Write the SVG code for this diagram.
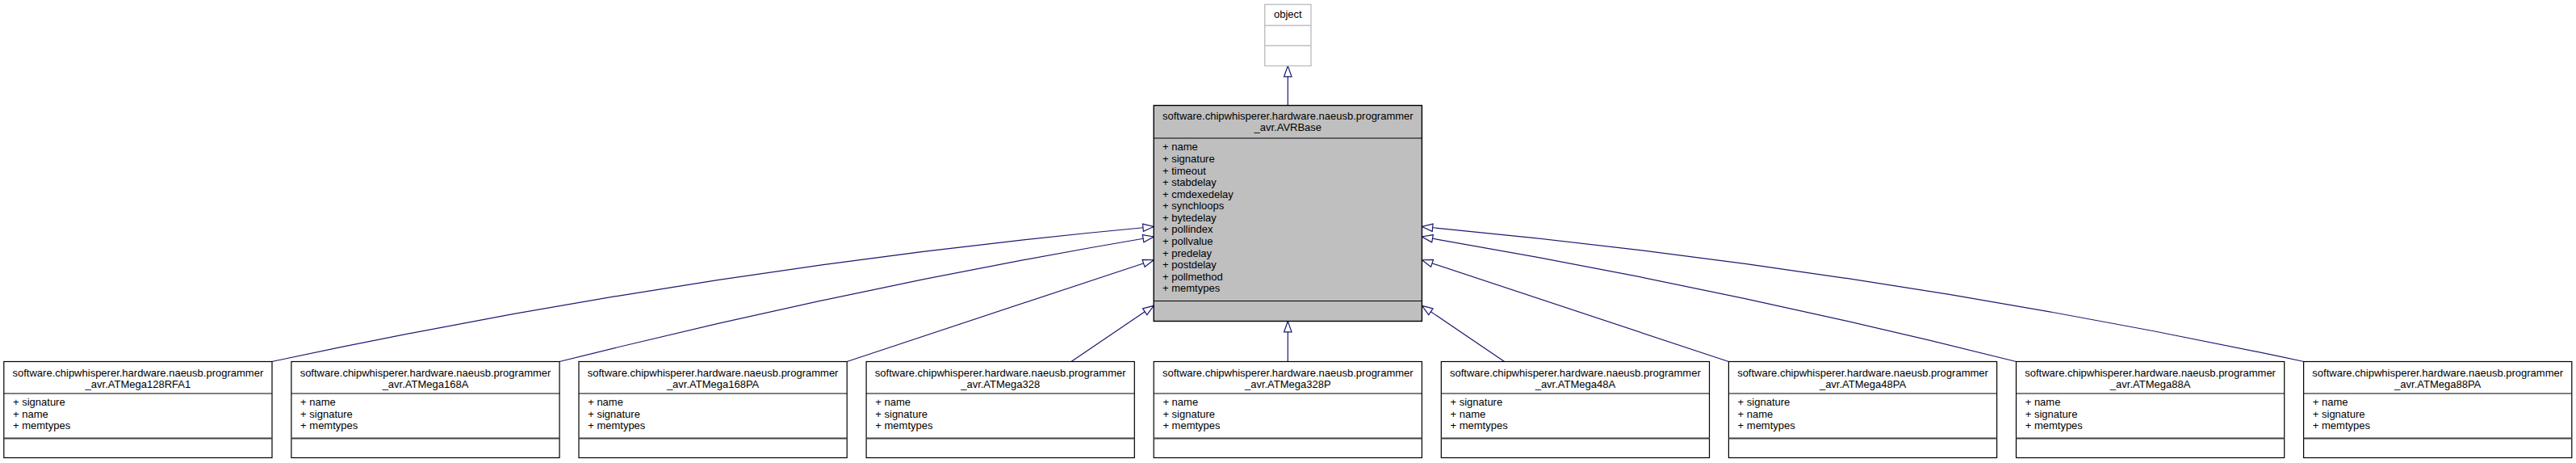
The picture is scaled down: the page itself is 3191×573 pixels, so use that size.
<svg xmlns="http://www.w3.org/2000/svg" width="3191" height="573" viewBox="0 0 3191 573">
<style>
text{font-family:"Liberation Sans",Arial,Helvetica,sans-serif;font-size:13px;fill:#000}
.t{text-anchor:middle}
.box{fill:#fff;stroke:#000;stroke-width:1.2}
.base{fill:#bfbfbf;stroke:#000;stroke-width:1.4}
.obj{fill:#fff;stroke:#bfbfbf;stroke-width:1.4}
.div1{stroke:#000;stroke-width:1.2}
.div2{stroke:#404040;stroke-width:2}
.odiv{stroke:#bfbfbf;stroke-width:1.4}
.edge{fill:none;stroke:#191970;stroke-width:1.2;marker-end:url(#inh)}
</style>
<defs>
<marker id="inh" markerUnits="userSpaceOnUse" viewBox="-2 -7 18 14" markerWidth="18" markerHeight="14" refX="13.3" refY="0" orient="auto" overflow="visible">
<path d="M0,-4.7 L13.3,0 L0,4.7 Z" fill="#fff" stroke="#191970" stroke-width="1.2"/>
</marker>
</defs>
<rect width="3191" height="573" fill="#fff"/>

<g id="connectors">
<path class="edge" d="M1595.3,130.5 L1595.3,81.5"/>
<path class="edge" d="M336.7,447.5 C700.9,369.8 1065,314.2 1429.2,280.5"/>
<path class="edge" d="M693.1,447.5 C938.5,386 1183.8,334.5 1429.2,293"/>
<path class="edge" d="M1049.2,447.5 L1429.2,321.7"/>
<path class="edge" d="M1327,447.5 L1429.2,378.3"/>
<path class="edge" d="M1595.3,447.5 L1595.3,397.5"/>
<path class="edge" d="M1863.6,447.5 L1761.4,378.3"/>
<path class="edge" d="M2141.4,447.5 L1761.4,321.7"/>
<path class="edge" d="M2497.5,447.5 C2252.1,386 2006.8,334.5 1761.4,293"/>
<path class="edge" d="M2853.9,447.5 C2489.7,369.8 2125.6,314.2 1761.4,280.5"/>
</g>

<g id="node-object">
<rect class="obj" x="1566.7" y="5.5" width="57.3" height="76"/>
<line class="odiv" x1="1566.7" y1="31.5" x2="1624" y2="31.5"/>
<line class="odiv" x1="1566.7" y1="56.5" x2="1624" y2="56.5"/>
<text class="t" x="1595.3" y="21.5">object</text>
</g>

<g id="node-AVRBase">
<rect class="base" x="1429.2" y="130.5" width="332.2" height="267"/>
<line class="div1" x1="1429.2" y1="171" x2="1761.4" y2="171"/>
<line class="div1" x1="1429.2" y1="372.5" x2="1761.4" y2="372.5"/>
<text class="t" x="1595.3" y="147.5">software.chipwhisperer.hardware.naeusb.programmer</text>
<text class="t" x="1595.3" y="161.5">_avr.AVRBase</text>
<text x="1440" y="186.3">+ name</text>
<text x="1440" y="200.9">+ signature</text>
<text x="1440" y="215.5">+ timeout</text>
<text x="1440" y="230">+ stabdelay</text>
<text x="1440" y="244.6">+ cmdexedelay</text>
<text x="1440" y="259.2">+ synchloops</text>
<text x="1440" y="273.8">+ bytedelay</text>
<text x="1440" y="288.4">+ pollindex</text>
<text x="1440" y="303">+ pollvalue</text>
<text x="1440" y="317.6">+ predelay</text>
<text x="1440" y="332.1">+ postdelay</text>
<text x="1440" y="346.7">+ pollmethod</text>
<text x="1440" y="361.3">+ memtypes</text>
</g>

<g id="node-ATMega128RFA1">
<rect class="box" x="4.8" y="447.5" width="332.2" height="119"/>
<line class="div1" x1="4.8" y1="487" x2="337" y2="487"/>
<line class="div2" x1="4.8" y1="542.5" x2="337" y2="542.5"/>
<text class="t" x="170.9" y="465.5">software.chipwhisperer.hardware.naeusb.programmer</text>
<text class="t" x="170.9" y="479.5">_avr.ATMega128RFA1</text>
<text x="16" y="502">+ signature</text>
<text x="16" y="516.6">+ name</text>
<text x="16" y="531.2">+ memtypes</text>
</g>

<g id="node-ATMega168A">
<rect class="box" x="360.9" y="447.5" width="332.2" height="119"/>
<line class="div1" x1="360.9" y1="487" x2="693.1" y2="487"/>
<line class="div2" x1="360.9" y1="542.5" x2="693.1" y2="542.5"/>
<text class="t" x="527" y="465.5">software.chipwhisperer.hardware.naeusb.programmer</text>
<text class="t" x="527" y="479.5">_avr.ATMega168A</text>
<text x="372.1" y="502">+ name</text>
<text x="372.1" y="516.6">+ signature</text>
<text x="372.1" y="531.2">+ memtypes</text>
</g>

<g id="node-ATMega168PA">
<rect class="box" x="717" y="447.5" width="332.2" height="119"/>
<line class="div1" x1="717" y1="487" x2="1049.2" y2="487"/>
<line class="div2" x1="717" y1="542.5" x2="1049.2" y2="542.5"/>
<text class="t" x="883.1" y="465.5">software.chipwhisperer.hardware.naeusb.programmer</text>
<text class="t" x="883.1" y="479.5">_avr.ATMega168PA</text>
<text x="728.2" y="502">+ name</text>
<text x="728.2" y="516.6">+ signature</text>
<text x="728.2" y="531.2">+ memtypes</text>
</g>

<g id="node-ATMega328">
<rect class="box" x="1073.1" y="447.5" width="332.2" height="119"/>
<line class="div1" x1="1073.1" y1="487" x2="1405.3" y2="487"/>
<line class="div2" x1="1073.1" y1="542.5" x2="1405.3" y2="542.5"/>
<text class="t" x="1239.2" y="465.5">software.chipwhisperer.hardware.naeusb.programmer</text>
<text class="t" x="1239.2" y="479.5">_avr.ATMega328</text>
<text x="1084.3" y="502">+ name</text>
<text x="1084.3" y="516.6">+ signature</text>
<text x="1084.3" y="531.2">+ memtypes</text>
</g>

<g id="node-ATMega328P">
<rect class="box" x="1429.2" y="447.5" width="332.2" height="119"/>
<line class="div1" x1="1429.2" y1="487" x2="1761.4" y2="487"/>
<line class="div2" x1="1429.2" y1="542.5" x2="1761.4" y2="542.5"/>
<text class="t" x="1595.3" y="465.5">software.chipwhisperer.hardware.naeusb.programmer</text>
<text class="t" x="1595.3" y="479.5">_avr.ATMega328P</text>
<text x="1440.4" y="502">+ name</text>
<text x="1440.4" y="516.6">+ signature</text>
<text x="1440.4" y="531.2">+ memtypes</text>
</g>

<g id="node-ATMega48A">
<rect class="box" x="1785.3" y="447.5" width="332.2" height="119"/>
<line class="div1" x1="1785.3" y1="487" x2="2117.5" y2="487"/>
<line class="div2" x1="1785.3" y1="542.5" x2="2117.5" y2="542.5"/>
<text class="t" x="1951.4" y="465.5">software.chipwhisperer.hardware.naeusb.programmer</text>
<text class="t" x="1951.4" y="479.5">_avr.ATMega48A</text>
<text x="1796.5" y="502">+ signature</text>
<text x="1796.5" y="516.6">+ name</text>
<text x="1796.5" y="531.2">+ memtypes</text>
</g>

<g id="node-ATMega48PA">
<rect class="box" x="2141.4" y="447.5" width="332.2" height="119"/>
<line class="div1" x1="2141.4" y1="487" x2="2473.6" y2="487"/>
<line class="div2" x1="2141.4" y1="542.5" x2="2473.6" y2="542.5"/>
<text class="t" x="2307.5" y="465.5">software.chipwhisperer.hardware.naeusb.programmer</text>
<text class="t" x="2307.5" y="479.5">_avr.ATMega48PA</text>
<text x="2152.6" y="502">+ signature</text>
<text x="2152.6" y="516.6">+ name</text>
<text x="2152.6" y="531.2">+ memtypes</text>
</g>

<g id="node-ATMega88A">
<rect class="box" x="2497.5" y="447.5" width="332.2" height="119"/>
<line class="div1" x1="2497.5" y1="487" x2="2829.7" y2="487"/>
<line class="div2" x1="2497.5" y1="542.5" x2="2829.7" y2="542.5"/>
<text class="t" x="2663.6" y="465.5">software.chipwhisperer.hardware.naeusb.programmer</text>
<text class="t" x="2663.6" y="479.5">_avr.ATMega88A</text>
<text x="2508.7" y="502">+ name</text>
<text x="2508.7" y="516.6">+ signature</text>
<text x="2508.7" y="531.2">+ memtypes</text>
</g>

<g id="node-ATMega88PA">
<rect class="box" x="2853.6" y="447.5" width="332.2" height="119"/>
<line class="div1" x1="2853.6" y1="487" x2="3185.8" y2="487"/>
<line class="div2" x1="2853.6" y1="542.5" x2="3185.8" y2="542.5"/>
<text class="t" x="3019.7" y="465.5">software.chipwhisperer.hardware.naeusb.programmer</text>
<text class="t" x="3019.7" y="479.5">_avr.ATMega88PA</text>
<text x="2864.8" y="502">+ name</text>
<text x="2864.8" y="516.6">+ signature</text>
<text x="2864.8" y="531.2">+ memtypes</text>
</g>
</svg>
